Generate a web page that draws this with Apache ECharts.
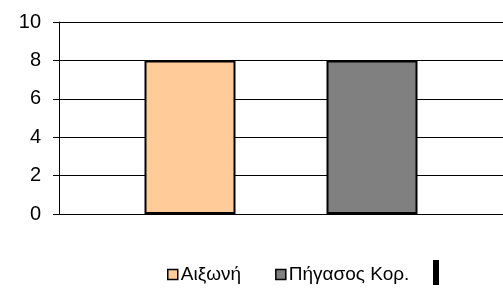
<!DOCTYPE html>
<html>
<head>
<meta charset="utf-8">
<script src="https://cdn.jsdelivr.net/npm/echarts@6/dist/echarts.min.js"></script>
<style>
  html, body { margin: 0; padding: 0; background: #fff; }
  #chart { width: 503px; height: 291px; }
</style>
</head>
<body>
<div id="chart"></div>
<script>
const categories = ['']
const seriesNames = ['Αιξωνή', 'Πήγασος Κορ.']
const seriesValues = [[8], [8]]
const seriesColors = ['#ffcc99', '#808080']
const yTicks = { min: 0, max: 10, interval: 2 }

const chart = echarts.init(document.getElementById('chart'))

const series = seriesNames.map(function (name, i) {
  return {
    name: name,
    type: 'bar',
    data: seriesValues[i],
    barWidth: 91,
    barGap: '100%',
    itemStyle: { color: seriesColors[i], borderColor: '#000', borderWidth: 2 }
  }
})

chart.setOption({
  animation: false,
  textStyle: { fontFamily: 'Liberation Sans' },
  grid: { left: 59, right: 0, top: 22, bottom: 77 },
  legend: {
    data: seriesNames.map(function (n, i) {
      return { name: n, itemStyle: { color: seriesColors[i], borderColor: '#000', borderWidth: 1.5 } }
    }),
    left: 167,
    top: 265,
    padding: 0,
    icon: 'rect',
    itemWidth: 10,
    itemHeight: 10,
    itemGap: 34,
    textStyle: { fontSize: 19, color: '#000', padding: [0, 0, 0, -2] }
  },
  xAxis: {
    type: 'category',
    data: categories,
    axisLine: { lineStyle: { color: '#000', width: 1 } },
    axisTick: { show: false },
    axisLabel: { show: false }
  },
  yAxis: {
    type: 'value',
    min: yTicks.min,
    max: yTicks.max,
    interval: yTicks.interval,
    axisLine: { show: true, lineStyle: { color: '#000', width: 1 } },
    axisTick: { show: true, length: 6, lineStyle: { color: '#000' } },
    axisLabel: { fontSize: 20, color: '#000', margin: 18 },
    splitLine: { lineStyle: { color: '#000', width: 1 } }
  },
  graphic: [{
    type: 'rect',
    left: 433,
    top: 260,
    shape: { width: 6, height: 25 },
    style: { fill: '#000' }
  }],
  series: series
})
</script>
</body>
</html>
